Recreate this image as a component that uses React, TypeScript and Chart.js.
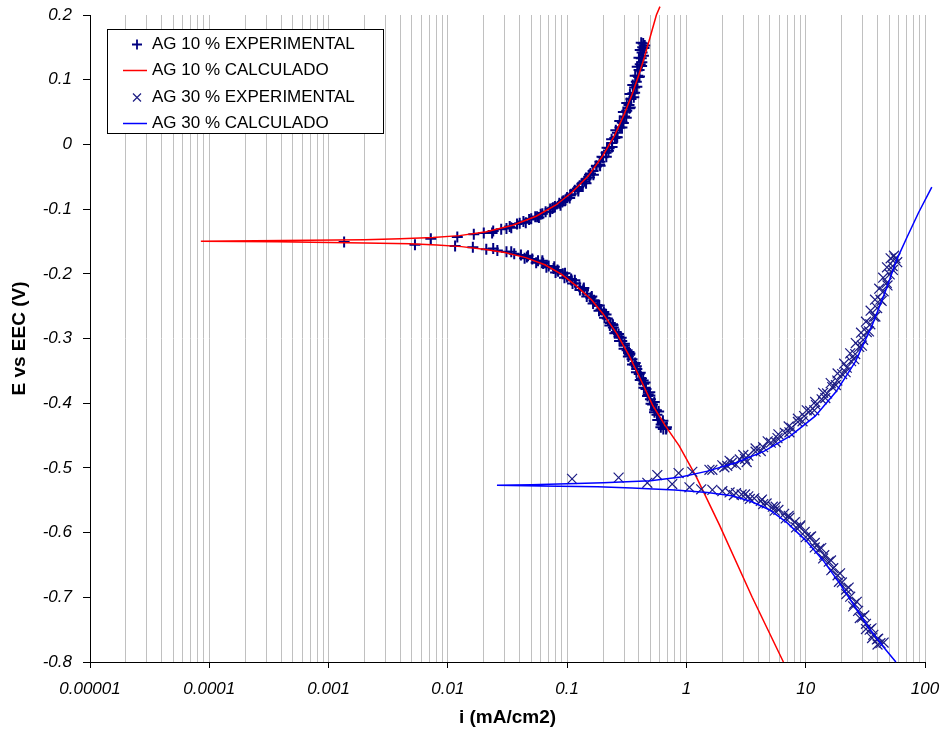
import { useEffect, useRef } from 'react';
import { Chart, registerables } from 'chart.js';

Chart.register(...registerables);

// ---- axis definitions ----
const xDecades = [0.00001, 0.0001, 0.001, 0.01, 0.1, 1, 10, 100];
const xTickLabels = ['0.00001', '0.0001', '0.001', '0.01', '0.1', '1', '10', '100'];
const xMinorMultipliers = [2, 3, 4, 5, 6, 7, 8, 9];
const yMin = -0.8;
const yMax = 0.2;
const yStep = 0.1;

const xTitle = 'i (mA/cm2)';
const yTitle = 'E vs EEC (V)';
const seriesLabels = ['AG 10 % EXPERIMENTAL', 'AG 10 % CALCULADO', 'AG 30 % EXPERIMENTAL', 'AG 30 % CALCULADO'];

// ---- data: [i (mA/cm2), E (V)] ----
const ag10ExpAnodic: [number, number][] = [
  [0.00135, -0.151], [0.0072, -0.146], [0.012, -0.143], [0.0165, -0.139], [0.02, -0.137],
  [0.024, -0.134], [0.028, -0.131], [0.033, -0.127], [0.038, -0.123], [0.043, -0.119],
  [0.048, -0.116], [0.054, -0.112], [0.06, -0.108], [0.066, -0.104], [0.072, -0.1],
  [0.079, -0.096], [0.086, -0.091], [0.093, -0.087], [0.1, -0.082], [0.108, -0.077],
  [0.116, -0.071], [0.125, -0.066], [0.134, -0.06], [0.144, -0.054], [0.154, -0.047],
  [0.165, -0.041], [0.176, -0.034], [0.188, -0.027], [0.2, -0.02], [0.212, -0.013],
  [0.225, -0.006], [0.238, 0.002], [0.251, 0.01], [0.264, 0.018], [0.277, 0.026],
  [0.29, 0.034], [0.303, 0.043], [0.316, 0.052], [0.33, 0.061], [0.343, 0.07],
  [0.356, 0.079], [0.368, 0.088], [0.38, 0.097], [0.391, 0.106], [0.401, 0.115],
  [0.41, 0.124], [0.418, 0.133], [0.425, 0.142], [0.43, 0.15], [0.434, 0.156],
  [0.056, -0.112], [0.075, -0.099], [0.097, -0.086], [0.124, -0.069], [0.154, -0.051],
  [0.187, -0.031], [0.222, -0.01], [0.258, 0.011], [0.296, 0.033], [0.333, 0.056],
  [0.368, 0.08], [0.398, 0.104], [0.423, 0.127], [0.441, 0.149],
  [0.031, -0.13], [0.04, -0.122], [0.05, -0.115], [0.062, -0.107], [0.076, -0.098],
  [0.091, -0.089], [0.106, -0.079], [0.122, -0.068], [0.139, -0.057], [0.157, -0.045],
  [0.176, -0.033], [0.196, -0.019], [0.216, -0.005], [0.236, 0.008], [0.256, 0.022],
  [0.276, 0.036], [0.296, 0.05], [0.316, 0.064], [0.336, 0.078], [0.355, 0.092],
  [0.372, 0.106], [0.387, 0.12], [0.4, 0.134], [0.41, 0.146], [0.418, 0.157],
  [0.0235, -0.137], [0.034, -0.129], [0.045, -0.121], [0.058, -0.113], [0.072, -0.104],
  [0.088, -0.094], [0.105, -0.083], [0.124, -0.072], [0.144, -0.06], [0.166, -0.047],
  [0.189, -0.033], [0.213, -0.019], [0.238, -0.004], [0.263, 0.011], [0.288, 0.026],
  [0.313, 0.041], [0.338, 0.057], [0.362, 0.073], [0.384, 0.089], [0.404, 0.105],
  [0.421, 0.121], [0.436, 0.137], [0.447, 0.153],
];

const ag10ExpCathodic: [number, number][] = [
  [0.0053, -0.155], [0.0115, -0.157], [0.0162, -0.159], [0.021, -0.162], [0.026, -0.164],
  [0.031, -0.166], [0.036, -0.169], [0.041, -0.171], [0.046, -0.174], [0.051, -0.177],
  [0.057, -0.18], [0.063, -0.184], [0.07, -0.188], [0.077, -0.192], [0.084, -0.196],
  [0.092, -0.2], [0.1, -0.205], [0.109, -0.21], [0.118, -0.215], [0.127, -0.22],
  [0.137, -0.226], [0.147, -0.231], [0.158, -0.237], [0.169, -0.243], [0.18, -0.249],
  [0.192, -0.255], [0.204, -0.262], [0.217, -0.269], [0.23, -0.276], [0.244, -0.283],
  [0.258, -0.29], [0.272, -0.297], [0.287, -0.304], [0.302, -0.311], [0.318, -0.318],
  [0.334, -0.325], [0.35, -0.332], [0.367, -0.34], [0.384, -0.347], [0.402, -0.355],
  [0.42, -0.362], [0.439, -0.37], [0.458, -0.378], [0.478, -0.386], [0.499, -0.394],
  [0.521, -0.402], [0.543, -0.41], [0.566, -0.418], [0.59, -0.426], [0.614, -0.433],
  [0.64, -0.44],
  [0.062, -0.182], [0.083, -0.194], [0.108, -0.208], [0.137, -0.224], [0.168, -0.241],
  [0.203, -0.259], [0.242, -0.279], [0.284, -0.299], [0.33, -0.321], [0.38, -0.343],
  [0.434, -0.365], [0.494, -0.388], [0.56, -0.411], [0.63, -0.431], [0.675, -0.44],
  [0.044, -0.176], [0.055, -0.183], [0.067, -0.19], [0.08, -0.198], [0.095, -0.206],
  [0.111, -0.215], [0.128, -0.225], [0.146, -0.235], [0.165, -0.246], [0.185, -0.257],
  [0.206, -0.268], [0.228, -0.28], [0.251, -0.292], [0.275, -0.304], [0.3, -0.316],
  [0.326, -0.328], [0.353, -0.34], [0.381, -0.352], [0.41, -0.364], [0.44, -0.376],
  [0.472, -0.389], [0.505, -0.401], [0.54, -0.414], [0.575, -0.426], [0.61, -0.437],
  [0.024, -0.161], [0.034, -0.166], [0.047, -0.172], [0.062, -0.18], [0.078, -0.189],
  [0.096, -0.199], [0.116, -0.21], [0.138, -0.222], [0.161, -0.235], [0.186, -0.249],
  [0.212, -0.263], [0.24, -0.278], [0.27, -0.293], [0.302, -0.308], [0.336, -0.323],
  [0.372, -0.338], [0.41, -0.353], [0.45, -0.368], [0.493, -0.383], [0.538, -0.398],
  [0.585, -0.413], [0.635, -0.427], [0.68, -0.437],
];

const ag10Calc: [number, number][] = [
  [0.6, 0.213], [0.56, 0.2], [0.5, 0.168], [0.45, 0.138], [0.4, 0.108], [0.35, 0.077],
  [0.3, 0.046], [0.25, 0.014], [0.2, -0.017], [0.15, -0.049], [0.11, -0.074], [0.08, -0.094],
  [0.055, -0.111], [0.035, -0.125], [0.021, -0.135], [0.0125, -0.141], [0.0075, -0.144],
  [0.004, -0.146], [0.002, -0.1475], [0.000085, -0.1495], [0.00037, -0.1505],
  [0.002, -0.1525], [0.0048, -0.1535], [0.0081, -0.1555], [0.013, -0.158], [0.02, -0.162],
  [0.03, -0.167], [0.045, -0.175], [0.065, -0.186], [0.09, -0.201], [0.12, -0.219],
  [0.16, -0.24], [0.2, -0.262], [0.26, -0.292], [0.33, -0.326], [0.42, -0.366],
  [0.52, -0.403], [0.66, -0.434], [0.87, -0.466], [1.21, -0.514], [1.89, -0.588],
  [3.56, -0.7], [6.5, -0.8],
];

const ag30ExpAnodic: [number, number][] = [
  [0.11, -0.517], [0.27, -0.515], [0.57, -0.511], [0.86, -0.508], [1.12, -0.506],
  [1.56, -0.503], [1.65, -0.503], [2.08, -0.499], [2.6, -0.495], [3.2, -0.491],
  [2.0, -0.496], [2.4, -0.492], [2.8, -0.487], [3.3, -0.481], [3.8, -0.475],
  [4.4, -0.468], [5.1, -0.461], [5.8, -0.454], [6.7, -0.446], [7.6, -0.438],
  [8.6, -0.429], [9.7, -0.42], [10.9, -0.412], [12.2, -0.403], [13.6, -0.394],
  [15.1, -0.385], [16.7, -0.375], [18.4, -0.365], [20.2, -0.355], [22.1, -0.345],
  [24.0, -0.335], [26.0, -0.324], [28.1, -0.313], [30.3, -0.302], [32.5, -0.29],
  [34.8, -0.278], [37.2, -0.266], [39.7, -0.253], [42.3, -0.24], [45.0, -0.227],
  [47.8, -0.214], [50.6, -0.201], [53.5, -0.188], [56.5, -0.176],
  [2.2, -0.497], [3.1, -0.486], [4.2, -0.474], [5.6, -0.46], [7.3, -0.445],
  [9.4, -0.428], [11.8, -0.411], [14.6, -0.392], [17.9, -0.372], [21.6, -0.352],
  [25.5, -0.332], [29.6, -0.311], [33.9, -0.289], [38.4, -0.266], [43.3, -0.242],
  [48.5, -0.218], [53.8, -0.194], [58.5, -0.182],
  [2.3, -0.489], [3.0, -0.48], [3.8, -0.47], [4.8, -0.459], [5.9, -0.448],
  [7.2, -0.436], [8.6, -0.424], [10.2, -0.411], [12.0, -0.398], [14.0, -0.384],
  [16.2, -0.369], [18.5, -0.354], [21.0, -0.339], [23.6, -0.323], [26.3, -0.307],
  [29.1, -0.291], [32.0, -0.274], [35.0, -0.257], [38.1, -0.24], [41.3, -0.223],
  [44.6, -0.206], [48.0, -0.19], [51.5, -0.176], [55.0, -0.172],
];

const ag30ExpCathodic: [number, number][] = [
  [0.47, -0.523], [0.76, -0.525], [1.06, -0.53], [1.33, -0.533], [1.65, -0.534],
  [2.0, -0.536], [2.3, -0.538], [2.6, -0.539], [2.9, -0.541], [3.3, -0.544],
  [3.7, -0.547], [4.2, -0.551], [4.7, -0.555], [5.3, -0.56], [5.9, -0.565],
  [6.6, -0.571], [7.3, -0.577], [8.1, -0.584], [8.9, -0.591], [9.8, -0.599],
  [10.8, -0.607], [11.9, -0.616], [13.0, -0.625], [14.3, -0.635], [15.6, -0.645],
  [17.0, -0.655], [18.5, -0.666], [20.1, -0.677], [21.8, -0.688], [23.6, -0.699],
  [25.5, -0.71], [27.5, -0.721], [29.7, -0.731], [32.0, -0.741], [34.4, -0.75],
  [36.9, -0.758], [39.5, -0.765], [42.3, -0.771],
  [3.1, -0.541], [4.3, -0.549], [5.6, -0.56], [7.2, -0.574], [9.0, -0.589],
  [11.1, -0.606], [13.5, -0.624], [16.3, -0.643], [19.4, -0.663], [22.9, -0.685],
  [26.8, -0.707], [31.0, -0.728], [35.6, -0.748], [40.5, -0.764], [45.0, -0.77],
  [2.5, -0.542], [3.4, -0.548], [4.4, -0.556], [5.5, -0.566], [6.8, -0.578],
  [8.3, -0.592], [10.0, -0.607], [11.9, -0.623], [14.0, -0.64], [16.4, -0.658],
  [19.0, -0.676], [21.9, -0.695], [25.0, -0.714], [28.4, -0.732], [32.0, -0.749],
  [36.0, -0.763], [40.0, -0.773],
];

const ag30Calc: [number, number][] = [
  [114, -0.066], [88, -0.106], [70, -0.145], [58, -0.178], [47, -0.225], [36, -0.28],
  [26, -0.336], [18, -0.382], [12, -0.42], [7.5, -0.45], [4.5, -0.474], [2.6, -0.492],
  [1.5, -0.505], [0.9, -0.514], [0.5, -0.52], [0.2, -0.523], [0.05, -0.526],
  [0.0258, -0.527], [0.06, -0.528], [0.18, -0.529], [0.35, -0.531], [0.8, -0.534],
  [1.5, -0.538], [2.4, -0.543], [3.5, -0.552], [5.0, -0.565], [7.0, -0.585],
  [10, -0.612], [14, -0.643], [19, -0.677], [26, -0.715], [34, -0.748], [44, -0.775],
  [57, -0.8],
];

const FONT = '"Liberation Sans", Arial, sans-serif';

const toXY = (arr: [number, number][]) => arr.map(([x, y]) => ({ x, y }));

const isDecade = (v: number | undefined) =>
  v !== undefined && xDecades.some((d) => Math.abs(Math.log10(d) - Math.log10(v)) < 1e-6);

const allXTicks = (() => {
  const out: number[] = [];
  xDecades.forEach((d, k) => {
    out.push(d);
    if (k < xDecades.length - 1) xMinorMultipliers.forEach((m) => out.push(d * m));
  });
  return out;
})();

const boxLegend = {
  id: 'boxLegend',
  afterDraw(chart: any) {
    const { ctx, chartArea } = chart;
    const x0 = chartArea.left + 17;
    const y0 = chartArea.top + 14;
    const w = 276;
    const h = 104;
    ctx.save();
    ctx.fillStyle = '#ffffff';
    ctx.fillRect(x0, y0, w, h);
    ctx.strokeStyle = '#000000';
    ctx.lineWidth = 1;
    ctx.strokeRect(x0 + 0.5, y0 + 0.5, w, h);
    chart.data.datasets.forEach((ds: any, k: number) => {
      const cy = Math.round(y0 + 15 + k * 26.3) + 0.5;
      const cx = x0 + 30;
      ctx.strokeStyle = ds.borderColor;
      if (ds.showLine) {
        ctx.lineWidth = ds.borderWidth;
        ctx.beginPath();
        ctx.moveTo(x0 + 16, cy);
        ctx.lineTo(x0 + 40, cy);
        ctx.stroke();
      } else if (ds.pointStyle === 'cross') {
        ctx.lineWidth = 1.8;
        ctx.beginPath();
        ctx.moveTo(cx - 5, cy);
        ctx.lineTo(cx + 5, cy);
        ctx.moveTo(cx, cy - 5);
        ctx.lineTo(cx, cy + 5);
        ctx.stroke();
      } else {
        ctx.lineWidth = 1.2;
        ctx.beginPath();
        ctx.moveTo(cx - 4, cy - 4);
        ctx.lineTo(cx + 4, cy + 4);
        ctx.moveTo(cx - 4, cy + 4);
        ctx.lineTo(cx + 4, cy - 4);
        ctx.stroke();
      }
      ctx.fillStyle = '#000000';
      ctx.font = `17px ${FONT}`;
      ctx.textBaseline = 'middle';
      ctx.textAlign = 'left';
      ctx.fillText(ds.label, x0 + 45, cy);
    });
    ctx.restore();
  },
};

export default function App() {
  const ref = useRef<HTMLCanvasElement | null>(null);

  useEffect(() => {
    if (!ref.current) return;
    const chart = new Chart(ref.current, {
      type: 'scatter',
      data: {
        datasets: [
          {
            label: seriesLabels[0],
            data: toXY([...ag10ExpAnodic, ...ag10ExpCathodic]),
            showLine: false,
            pointStyle: 'cross',
            pointRadius: 5.5,
            pointBorderWidth: 2,
            borderColor: '#000080',
            backgroundColor: '#000080',
            order: 4,
          } as any,
          {
            label: seriesLabels[1],
            data: toXY(ag10Calc),
            showLine: true,
            pointRadius: 0,
            borderWidth: 1.5,
            borderColor: '#ff0000',
            backgroundColor: '#ff0000',
            clip: false,
            order: 3,
          } as any,
          {
            label: seriesLabels[2],
            data: toXY([...ag30ExpAnodic, ...ag30ExpCathodic]),
            showLine: false,
            pointStyle: 'crossRot',
            pointRadius: 7,
            pointBorderWidth: 1.2,
            borderColor: '#1c1c84',
            backgroundColor: '#1c1c84',
            order: 2,
          } as any,
          {
            label: seriesLabels[3],
            data: toXY(ag30Calc),
            showLine: true,
            pointRadius: 0,
            borderWidth: 1.5,
            borderColor: '#0000ff',
            backgroundColor: '#0000ff',
            clip: false,
            order: 1,
          } as any,
        ],
      },
      options: {
        animation: false,
        responsive: true,
        maintainAspectRatio: false,
        devicePixelRatio: 1,
        layout: { padding: { left: 0, right: 15, top: 15, bottom: 0 } },
        plugins: { legend: { display: false }, tooltip: { enabled: false } },
        scales: {
          x: {
            type: 'logarithmic',
            min: xDecades[0],
            max: xDecades[xDecades.length - 1],
            afterBuildTicks: (scale: any) => {
              scale.ticks = allXTicks.map((v) => ({ value: v }));
            },
            afterFit: (scale: any) => {
              scale.height = 71;
              scale.paddingLeft = 0;
              scale.paddingRight = 0;
            },
            ticks: {
              autoSkip: false,
              maxRotation: 0,
              minRotation: 0,
              padding: 11,
              color: '#000',
              font: { family: FONT, size: 17, style: 'italic' },
              callback: (v: any) => {
                const val = Number(v);
                const k = xDecades.findIndex((d) => Math.abs(Math.log10(d) - Math.log10(val)) < 1e-6);
                return k >= 0 ? xTickLabels[k] : '';
              },
            },
            grid: {
              color: '#c0c0c0',
              lineWidth: 1,
              tickLength: 6,
              tickWidth: 1,
              tickColor: (c: any) => (isDecade(c.tick?.value) ? '#000000' : 'rgba(0,0,0,0)'),
            },
            border: { color: '#000', width: 1 },
            title: {
              display: true,
              text: xTitle,
              color: '#000',
              font: { family: FONT, size: 19, weight: 'bold' },
              padding: { top: 0, bottom: 4 },
            },
          } as any,
          y: {
            type: 'linear',
            min: yMin,
            max: yMax,
            afterFit: (scale: any) => {
              scale.width = 90;
              scale.paddingTop = 0;
              scale.paddingBottom = 0;
            },
            ticks: {
              stepSize: yStep,
              padding: 11,
              color: '#000',
              font: { family: FONT, size: 17, style: 'italic' },
              callback: (v: any) => String(Number(Number(v).toFixed(1))),
            },
            grid: { drawOnChartArea: false, tickLength: 7, tickColor: '#000' },
            border: { color: '#000', width: 1 },
            title: {
              display: true,
              text: yTitle,
              color: '#000',
              font: { family: FONT, size: 19, weight: 'bold' },
              padding: { top: 8, bottom: 0 },
            },
          },
        },
      },
      plugins: [boxLegend],
    });
    return () => chart.destroy();
  }, []);

  return (
    <div style={{ position: 'absolute', left: 0, top: 0, width: 940, height: 733, background: '#fff' }}>
      <canvas ref={ref} />
    </div>
  );
}
